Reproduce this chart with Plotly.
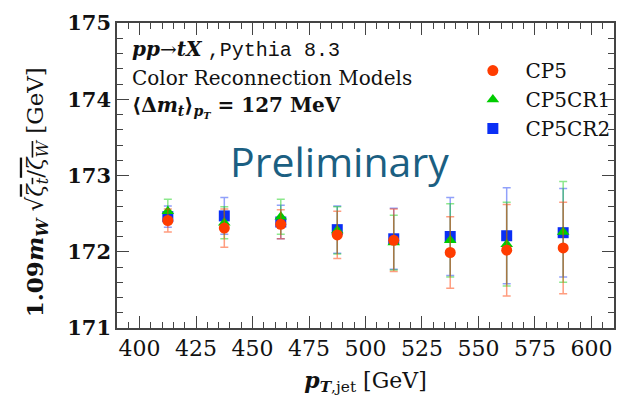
import plotly.graph_objects as go

pt_bins = [412.5, 437.5, 462.5, 487.5, 512.5, 537.5, 562.5, 587.5]

cp5 = [172.41, 172.31, 172.36, 172.22, 172.15, 171.99, 172.02, 172.05]
cp5_err = [0.15, 0.25, 0.19, 0.31, 0.41, 0.47, 0.60, 0.60]

cp5cr1 = [172.53, 172.38, 172.46, 172.28, 172.12, 172.15, 172.10, 172.26]
cp5cr1_err = [0.16, 0.21, 0.23, 0.31, 0.36, 0.48, 0.55, 0.66]

cp5cr2 = [172.46, 172.47, 172.39, 172.29, 172.17, 172.20, 172.21, 172.25]
cp5cr2_err = [0.14, 0.24, 0.22, 0.31, 0.40, 0.51, 0.63, 0.58]

x_ticks = [400, 425, 450, 475, 500, 525, 550, 575, 600]
y_ticks = [171, 172, 173, 174, 175]

SERIF = "DejaVu Serif"

fig = go.Figure()

series = [
    ("CP5CR2", cp5cr2, cp5cr2_err, "#0a2ff5", "rgba(10,47,245,0.45)", "square"),
    ("CP5CR1", cp5cr1, cp5cr1_err, "#00cc00", "rgba(0,204,0,0.45)", "triangle-up"),
    ("CP5", cp5, cp5_err, "#ff3c00", "rgba(255,60,0,0.5)", "circle"),
]
for name, vals, errs, col, ecol, sym in series:
    fig.add_trace(go.Scatter(
        x=pt_bins, y=vals, mode="markers", name="\u00a0\u00a0" + name,
        marker=dict(color=col, size=11, symbol=sym, line=dict(width=0)),
        error_y=dict(type="data", array=errs, visible=True, color=ecol,
                     thickness=1.5, width=4),
    ))

axis_common = dict(
    showline=True, linecolor="#444", linewidth=1.5, mirror="allticks",
    ticks="inside", tickcolor="#444", ticklen=12, tickwidth=1.3,
    showgrid=False, zeroline=False,
)

fig.update_xaxes(
    range=[390, 610], tickvals=x_ticks, ticktext=[str(v) for v in x_ticks],
    tickfont=dict(family=SERIF, size=22, color="#111"),
    minor=dict(ticks="inside", ticklen=6, dtick=5, tickcolor="#444", tickwidth=1.1),
    title=dict(text="<b><i>p</i></b><sub><b><i>T</i></b>,jet</sub> [GeV]",
               font=dict(family=SERIF, size=22, color="#111"), standoff=12),
    **axis_common,
)
fig.update_yaxes(
    range=[171, 175], tickvals=y_ticks,
    ticktext=["<b>%d</b>" % v for v in y_ticks],
    tickfont=dict(family=SERIF, size=21, color="#111"),
    minor=dict(ticks="inside", ticklen=6, dtick=0.2, tickcolor="#444", tickwidth=1.1),
    **axis_common,
)

# y-axis title as rotated annotation (placed slightly below plot centre as in reference)
fig.add_annotation(
    text="<b>1.09<i>m</i><sub><i>W</i></sub></b> \u221a<span style='text-decoration:overline'><i>\u03b6</i><sub><i>t</i></sub>/<i>\u03b6</i><sub><i>W</i></sub></span> [GeV]",
    x=-0.162, y=0.447, xref="paper", yref="paper", xanchor="center", yanchor="middle",
    textangle=-90, showarrow=False, font=dict(family=SERIF, size=23, color="#111"))

annots = [
    dict(text="<b><i>pp</i></b>\u2192<b><i>tX</i></b> <span style='font-family:Liberation Mono'>,Pythia 8.3</span>",
         y=0.913),
    dict(text="Color Reconnection Models", y=0.819),
    dict(text="<b>\u27e8\u0394<i>m</i><sub><i>t</i></sub>\u27e9<sub><i>p<sub>T</sub></i></sub> = 127 MeV</b>", y=0.726),
]
for a in annots:
    fig.add_annotation(text=a["text"], x=0.026, y=a["y"], xref="paper", yref="paper",
                       xanchor="left", yanchor="middle", showarrow=False,
                       font=dict(family=SERIF, size=20, color="#111"))

fig.add_annotation(text="Preliminary", x=0.447, y=0.548, xref="paper", yref="paper",
                   xanchor="center", yanchor="middle", showarrow=False,
                   font=dict(family="Open Sans", size=41, color="#1b5f82"))

fig.update_layout(
    width=626, height=404,
    margin=dict(l=117, r=10, t=18, b=76),
    paper_bgcolor="white", plot_bgcolor="white",
    legend=dict(x=0.716, y=0.908, xanchor="left", yanchor="top",
                traceorder="reversed", bgcolor="rgba(0,0,0,0)",
                font=dict(family=SERIF, size=20, color="#111"),
                itemwidth=30),
)

fig.write_html("out.html")
